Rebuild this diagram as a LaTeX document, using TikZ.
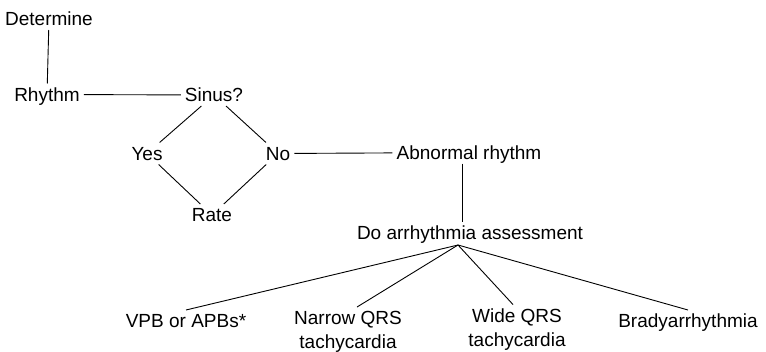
\documentclass[tikz,border=0pt]{standalone}
\usepackage{fontspec}
\setmainfont{Liberation Sans}
\begin{document}
\begin{tikzpicture}[x=1pt,y=-1pt,
  lbl/.style={inner sep=4pt, text height=13.6pt, text depth=0pt, font=\fontsize{19}{24}\selectfont},
  lbl2/.style={inner sep=4pt, align=center, anchor=base, font=\fontsize{19}{24}\selectfont},
  conn/.style={draw=black, line width=0.9pt}]
\useasboundingbox (0,0) rectangle (766,351);
\node[lbl] (det) at (49,19) {Determine};
\node[lbl] (rhy) at (47,94.5) {Rhythm};
\node[lbl] (sin) at (214,95) {Sinus?};
\node[lbl] (yes) at (147,153.5) {Yes};
\node[lbl] (no) at (278,153.5) {No};
\node[lbl] (rate) at (212,215) {Rate};
\node[lbl] (abn) at (469,152.5) {Abnormal rhythm};
\node[lbl] (do) at (470,232.5) {Do arrhythmia assessment};
\coordinate (apex) at (458,245);
\node[lbl] (vpb) at (186,321) {VPB or APBs*};
\node[lbl2] (nar) at (348,348.5) {Narrow QRS\\tachycardia};
\node[lbl2] (wide) at (517,346.5) {Wide QRS\\tachycardia};
\node[lbl] (bra) at (688,321) {Bradyarrhythmia};
\draw[conn] (det) -- (rhy);
\draw[conn] (rhy) -- (sin);
\draw[conn] (sin) -- (yes);
\draw[conn] (sin) -- (no);
\draw[conn] (yes) -- (rate);
\draw[conn] (no) -- (rate);
\draw[conn] (no) -- (abn);
\draw[conn] ([xshift=-7pt]abn.south) -- ([xshift=-8pt]do.north);
\draw[conn] (apex) -- (vpb.north);
\draw[conn] (apex) -- ([xshift=9pt]nar.north);
\draw[conn] (apex) -- ([xshift=-4pt]wide.north);
\draw[conn] (apex) -- (bra.north);
\end{tikzpicture}
\end{document}
